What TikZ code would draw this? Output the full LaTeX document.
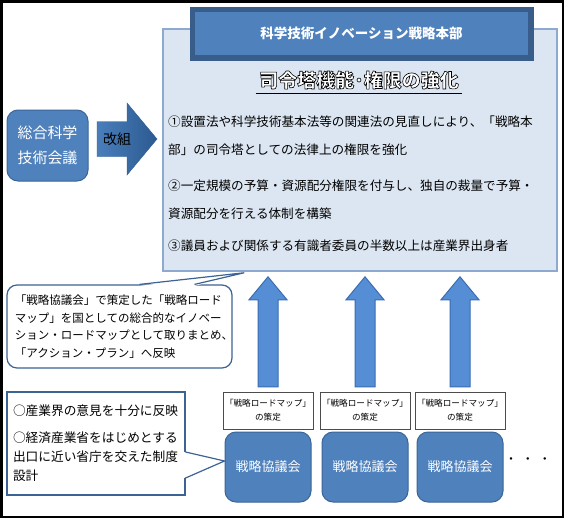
\documentclass[tikz,border=0pt]{standalone}
\usepackage{fontspec}
\setmainfont{Noto Sans CJK JP}
\usetikzlibrary{calc,positioning}

\definecolor{hqfill}{HTML}{DCE6F2}
\definecolor{hqline}{HTML}{8EA9CF}
\definecolor{titledark}{HTML}{385D8A}
\definecolor{titleblue}{HTML}{4F81BD}
\definecolor{councilblue}{HTML}{4F81BD}
\definecolor{councilline}{HTML}{3A6597}
\definecolor{arrowblue}{HTML}{558ED5}
\definecolor{arrowline}{HTML}{3A6DB0}
\definecolor{reorgdark}{HTML}{2B5A90}
\definecolor{reorglight}{HTML}{4A7EBB}
\definecolor{noteline}{HTML}{3D6294}

\newcommand{\outlinetext}[1]{\special{pdf:literal direct 2 Tr 0 G 0.6 w}#1\special{pdf:literal direct 0 Tr}}

\begin{document}
\begin{tikzpicture}[
    x=1pt, y=1pt,
    council/.style={rounded corners=11pt, draw=councilline, fill=councilblue, line width=1pt,
        minimum width=86pt, minimum height=70pt, text=white, font=\fontsize{13}{15}\selectfont},
    roadmap/.style={draw=black!70, fill=white, minimum width=90pt, minimum height=37pt,
        align=center, inner sep=0pt, font=\fontsize{8.6}{14}\selectfont},
    uparrow/.style={draw=arrowline, fill=arrowblue, line width=1pt},
    note/.style={draw=noteline, fill=white, line width=1.2pt},
    item/.style={anchor=north west, align=left, inner sep=0pt, font=\fontsize{12.6}{28}\selectfont}
]
    \useasboundingbox (0,0) rectangle (566,-520);
    \draw[line width=2.5pt] (1.5,-1.5) rectangle (563,-517);

    % headquarters box
    \node[draw=hqline, fill=hqfill, line width=1.5pt, minimum width=394pt, minimum height=242pt] (hq) at (360,-150) {};
    \node[draw=titledark, fill=titledark, minimum width=343pt, minimum height=53pt] (title) at (361.5,-33.5) {};
    \node[fill=titleblue, minimum width=333pt, minimum height=43pt, text=white,
        font=\bfseries\fontsize{13.5}{16}\selectfont] (titletext) at (title) {科学技術イノベーション戦略本部};
    \node[text=white, font=\bfseries\fontsize{19}{22}\selectfont] (head) at (359,-80) {\outlinetext{司令塔機能･権限の強化}};
    \draw[line width=1.3pt] ([yshift=-1]head.south west) -- ([yshift=-1]head.south east);
    \node[item] (item1) at (168,-116) {①設置法や科学技術基本法等の関連法の見直しにより、「戦略本\\部」の司令塔としての法律上の権限を強化};
    \node[item] (item2) at (168,-180) {②一定規模の予算・資源配分権限を付与し、独自の裁量で予算・\\資源配分を行える体制を構築};
    \node[item] (item3) at (168,-240) {③議員および関係する有識者委員の半数以上は産業界出身者};

    % old council and reorganisation arrow
    \node[rounded corners=11pt, draw=councilline, fill=councilblue, line width=1pt, minimum width=81pt,
        minimum height=71pt, align=center, text=white, font=\fontsize{15}{25}\selectfont] (cstp) at (47.5,-145.5) {総合科学\\技術会議};
    \coordinate (rtail) at (97,-139);
    \coordinate (rtip) at (157,-139);
    \draw[draw=reorgdark, left color=reorglight, right color=reorgdark] ([yshift=17.5]rtail) -- ++(30,0) -- ++(0,18.5)
        -- (rtip) -- ++(-30,-36) -- ++(0,18.5) -- ++(-30,0) -- cycle;
    \node[font=\fontsize{14}{16}\selectfont] (reorg) at (117,-139) {改組};

    % councils
    \foreach \i/\cx in {1/268,2/365,3/460} {
        \node[council] (cc\i) at (\cx,-467) {戦略協議会};
        \node[roadmap] (rm\i) at (\cx,-410.5) {「戦略ロードマップ」\\の策定};
        \draw[uparrow] ([shift={(-10,5)}]rm\i.north) -- ++(0,87) -- ++(-9,0) -- ++(19,23)
            -- ++(19,-23) -- ++(-9,0) -- ++(0,-87) -- cycle;
    }
    \node[font=\fontsize{12}{14}\selectfont] (more) at (528,-461) {・\hspace{5pt}・\hspace{5pt}・};

    % callouts
    \node[note, rounded corners=10pt, minimum width=225pt, minimum height=83pt, text width=209pt,
        inner xsep=8pt, align=left, font=\fontsize{11.5}{17.7}\selectfont] (note1) at (119.5,-326.5)
        {「戦略協議会」で策定した「戦略ロード\\マップ」を国としての総合的なイノベー\\ション・ロードマップとして取りまとめ、\\「アクション・プラン」へ反映};
    \coordinate (tip1) at ([xshift=82,yshift=-1]hq.south west);
    \fill[white] ([xshift=20,yshift=-1.5]note1.north) -- (tip1) -- ([xshift=75,yshift=-1.5]note1.north) -- cycle;
    \draw[noteline, line width=1.2pt] ([xshift=20]note1.north) -- (tip1) -- ([xshift=75]note1.north);

    \node[note, minimum width=178pt, minimum height=103pt, text width=166pt, inner xsep=6pt,
        align=left, font=\fontsize{12.7}{19}\selectfont] (note2) at (96,-443.5)
        {○産業界の意見を十分に反映\\[8pt]○経済産業省をはじめとする\\出口に近い省庁を交えた制度\\設計};
    \coordinate (tip2) at ([yshift=6]cc1.west);
    \fill[white] ([xshift=-1.5,yshift=-8.5]note2.east) -- (tip2) -- ([xshift=-1.5,yshift=-34.5]note2.east) -- cycle;
    \draw[noteline, line width=1.2pt] ([yshift=-8.5]note2.east) -- (tip2) -- ([yshift=-34.5]note2.east);
\end{tikzpicture}
\end{document}
